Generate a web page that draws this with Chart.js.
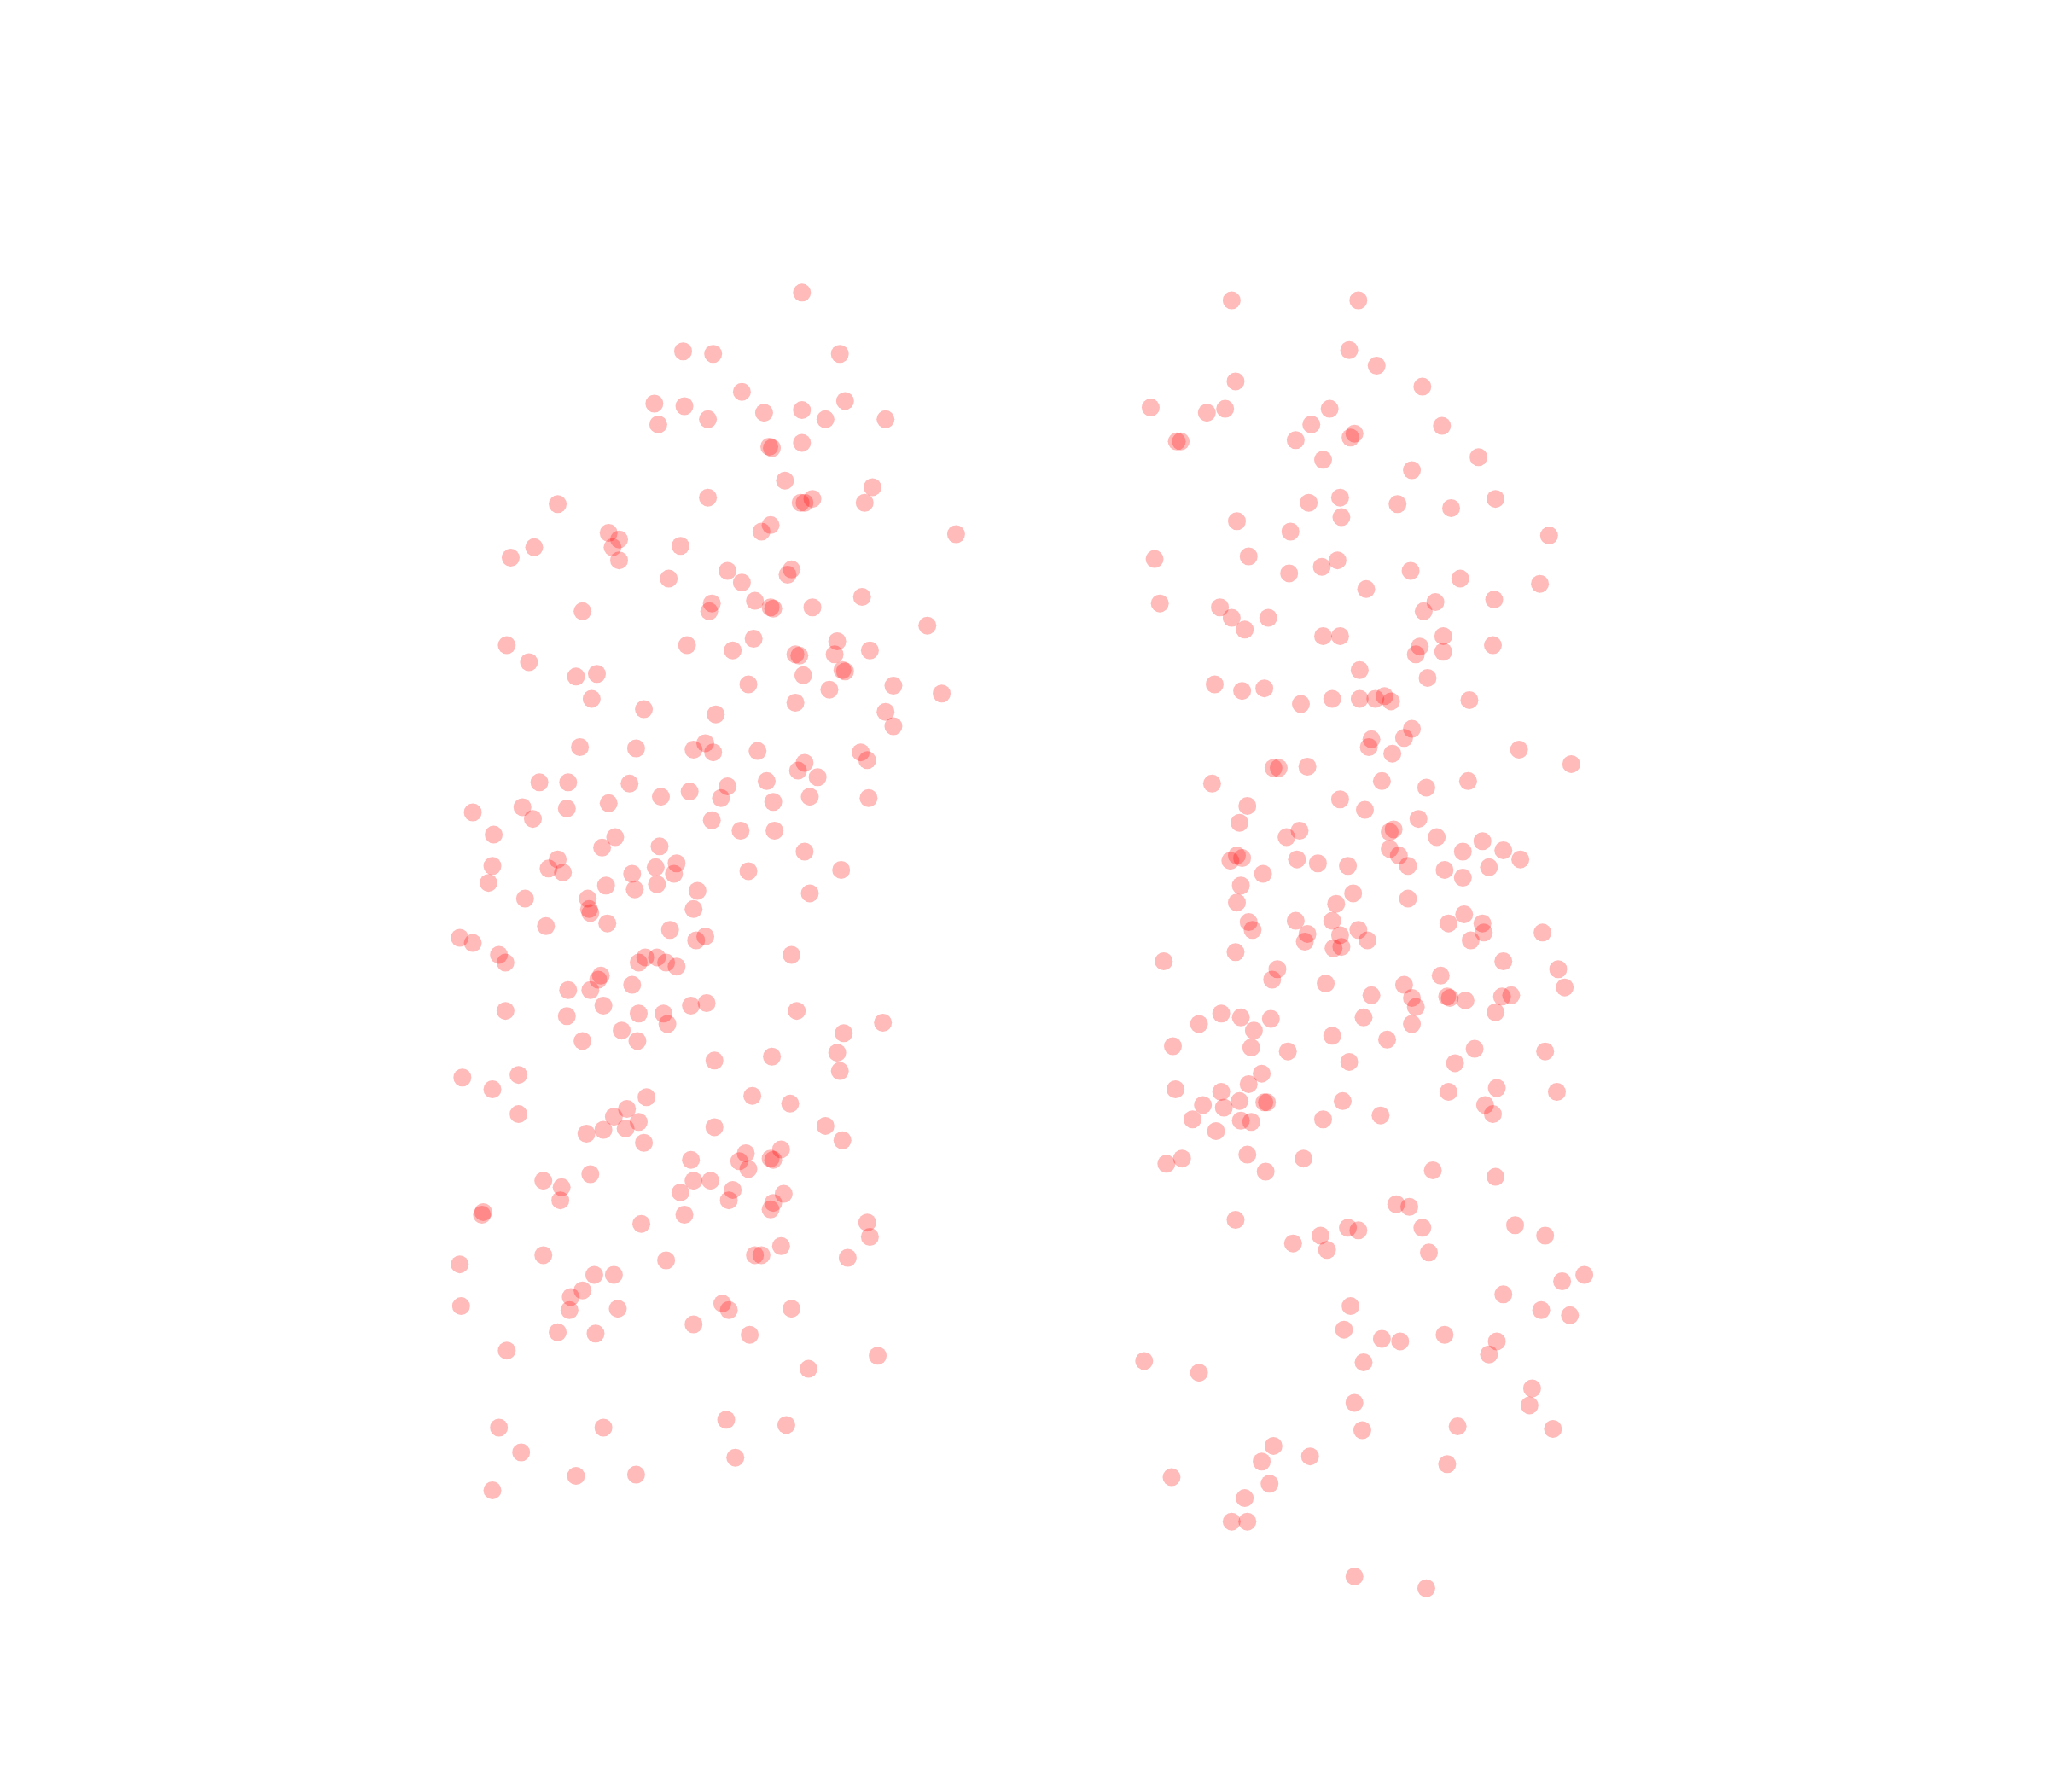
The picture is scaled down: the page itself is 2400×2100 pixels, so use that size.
<!DOCTYPE html>
<html>
<head>
<meta charset="utf-8">
<style>
  html, body { margin: 0; padding: 0; background: #ffffff; }
  #wrap { width: 2400px; height: 2100px; }
</style>
</head>
<body>
<div id="wrap"><canvas id="myChart" width="2400" height="2100"></canvas></div>
<script src="https://cdn.jsdelivr.net/npm/chart.js"></script>
<script>
  // points, as [x, y] in picture units (1568 x 1372 frame)
  const groupA = [
    [614,224],
    [523,269],[546,271],[643,271],
    [501,309],[524,311],[568,300],[585,316],[614,314],[647,307],[504,325],[542,321],[632,321],[678,321],
    [589,342],[591,343],[614,339],
    [601,368],[668,373],
    [542,381],[613,385],[616,385],[622,382],[662,385],[427,386],
    [466,408],[474,413],[469,419],[474,429],[409,419],[391,427],[521,418],[583,407],[590,402],[732,409],
    [557,437],[512,443],[568,446],[606,436],[603,440],
    [578,460],[590,465],[592,466],[545,462],[543,468],[622,465],[660,457],[446,468],
    [710,479],[577,489],[388,494],[526,494],[561,498],[609,501],[612,502],[639,501],[641,491],[666,498],[405,507],
    [645,513],[647,514],[615,517],[441,518],[457,516],[573,524],[635,528],[684,525],[721,531],[453,535],
    [493,543],[548,547],[609,538],[678,545],[684,556],
    [444,572],[487,573],[540,569],[531,574],[546,576],[580,575],[659,576],[664,582],
    [616,584],[611,590],[626,595],
    [413,599],[435,599],[482,600],[587,598],[557,602],[528,606],[506,610],[552,611],[592,614],[620,610],[665,611],
    [466,615],[434,619],[400,618],[408,627],[362,622],[545,628],
    [378,639],[471,641],[567,636],[593,636],[461,649],[505,648],[616,652],
    [427,658],[420,665],[431,668],[377,663],[518,661],[484,669],[502,664],[516,669],[573,667],[644,666],
    [374,676],[464,678],[486,681],[503,677],[534,682],[620,684],
    [402,688],[450,688],[451,696],[452,699],[531,696],
    [418,709],[465,707],[513,712],[540,717],[533,720],
    [352,718],[362,722],
    [382,731],[387,737],[494,733],[503,733],[489,737],[510,737],[518,740],[606,731],
    [460,747],[458,750],[435,758],[452,758],[484,754],
    [462,770],[529,770],[541,768],[387,774],[434,778],[489,776],[508,776],[511,784],[610,774],[676,783],[476,789],[646,791],[446,797],[488,797],
    [547,812],[591,809],[641,806],[643,820],
    [354,825],[397,823],[377,834],[576,839],[495,840],[605,845],
    [397,853],[480,849],[470,855],[489,859],[547,863],[462,865],[479,864],[449,868],[632,862],[493,875],[645,873],
    [571,883],[598,880],[529,888],[566,889],[592,888],[590,887],[573,895],
    [416,904],[430,909],[452,899],[531,904],[544,904],[521,913],[561,911],[600,914],[429,919],[558,919],[592,921],[590,926],
    [370,928],[369,930],[524,930],[491,937],[664,936],[666,947],
    [598,954],[578,961],[583,961],[416,961],[510,965],[649,963],
    [352,968],[455,976],[470,976],[446,988],[437,993],
    [353,1000],[436,1003],[473,1002],[553,998],[558,1003],[606,1002],
    [531,1014],[574,1022],[427,1020],[456,1021],[388,1034],[672,1038],
    [619,1048],
    [382,1093],[462,1093],[556,1087],[602,1091],
    [399,1112],[563,1116],
    [441,1130],[487,1129],
    [377,1141]
  ];

  const groupB = [
    [943,230],[1040,230],
    [1033,268],[1054,280],[946,292],[1089,296],
    [881,312],[924,316],[938,313],[1018,313],[1004,325],[1104,326],
    [901,338],[904,338],[992,337],[1034,335],[1037,332],
    [1013,352],[1132,350],[1081,360],
    [1002,385],[1026,381],[1070,386],[1111,389],[1145,382],[1027,396],
    [947,399],[988,407],[1186,410],
    [884,428],[956,426],[1024,429],[1012,434],[987,439],[1080,437],[1118,443],[1046,451],[1179,447],
    [888,462],[934,465],[943,473],[971,473],[953,482],[1099,461],[1090,468],[1144,459],
    [1013,487],[1026,487],[1105,487],[1087,495],[1084,501],[1105,499],[1143,494],
    [1041,513],[1093,519],[930,524],[951,529],[968,527],[996,539],[1020,535],[1041,535],[1053,535],[1065,537],[1060,533],[1125,536],
    [1081,558],[1075,565],[1050,566],[1048,572],[1066,577],[1163,574],[1203,585],
    [975,588],[979,588],[1001,587],[928,600],[1058,598],[1092,603],[1124,598],
    [1026,612],[955,617],[1045,620],
    [949,630],[1086,627],[995,636],[985,641],[1064,637],[1067,635],[1100,641],[1135,644],[1120,652],[1064,650],[1151,651],
    [942,659],[947,655],[951,657],[993,658],[1009,661],[1032,663],[1071,655],[1078,663],[1106,666],[1140,664],[1164,658],[967,669],[1120,672],
    [950,678],[1036,684],[1023,692],[947,691],[1078,688],[1121,700],
    [992,705],[1020,705],[956,706],[959,712],[1040,712],[1001,715],[1026,716],[1109,707],[1135,707],[1136,714],[1047,720],[1126,720],[1181,714],[999,721],[1021,726],[1027,725],
    [891,736],[946,729],[978,742],[974,750],[1015,753],[1151,736],[1193,742],[1103,747],[1198,756],[1075,754],
    [1050,762],[1081,764],[1108,763],[1110,764],[1122,766],[1150,763],[1157,762],[1084,771],[1145,775],
    [918,784],[935,776],[950,779],[973,780],[960,789],[1044,779],[1081,784],[1020,793],[1062,796],
    [898,801],[958,802],[986,805],[1129,803],[1183,805],[1033,813],[1114,814],
    [966,822],[956,830],[900,834],[935,836],[949,843],[968,844],[970,844],[921,846],[937,848],[1028,843],[1109,836],[1146,833],[1192,836],[1137,846],[1143,853],
    [913,857],[950,858],[958,859],[931,866],[1013,857],[1057,854],
    [955,884],[893,891],[905,887],[969,897],[998,887],[1097,896],[1145,901],
    [1069,922],[1079,924],[946,934],[1032,940],[1040,942],[1089,940],[1160,938],[1183,946],[1011,946],[990,952],[1016,957],[1094,959],
    [1213,976],[1196,981],[1151,991],[1034,1000],[1180,1003],[1202,1007],
    [1029,1018],[1058,1025],[1072,1027],[1106,1022],[1146,1027],[1140,1037],
    [876,1042],[918,1051],[1044,1043],
    [1173,1063],[1037,1074],[1171,1076],
    [1043,1095],[1116,1092],[1189,1094],
    [975,1107],[966,1119],[1003,1115],[1108,1121],
    [897,1131],[972,1136],[953,1147],
    [943,1165],[955,1165],
    [1037,1207],[1092,1216]
  ];

  const toPoints = (arr) => arr.map(([x, y]) => ({ x: x, y: y }));

  const ctx = document.getElementById("myChart");
  new Chart(ctx, {
    type: "scatter",
    data: {
      datasets: [
        {
          label: "A",
          data: toPoints(groupA),
          backgroundColor: "rgba(255, 0, 0, 0.27)",
          borderWidth: 0,
          pointRadius: 10.5,
          pointHoverRadius: 10.5,
        },
        {
          label: "B",
          data: toPoints(groupB),
          backgroundColor: "rgba(255, 0, 0, 0.27)",
          borderWidth: 0,
          pointRadius: 10.5,
          pointHoverRadius: 10.5,
        },
      ],
    },
    options: {
      responsive: false,
      animation: false,
      devicePixelRatio: 1,
      layout: { padding: 0, autoPadding: false },
      plugins: {
        legend: { display: false },
        tooltip: { enabled: false },
      },
      scales: {
        x: { type: "linear", min: 0, max: 1568, display: false },
        y: { type: "linear", min: 0, max: 1372, reverse: true, display: false },
      },
    },
  });
</script>
</body>
</html>
